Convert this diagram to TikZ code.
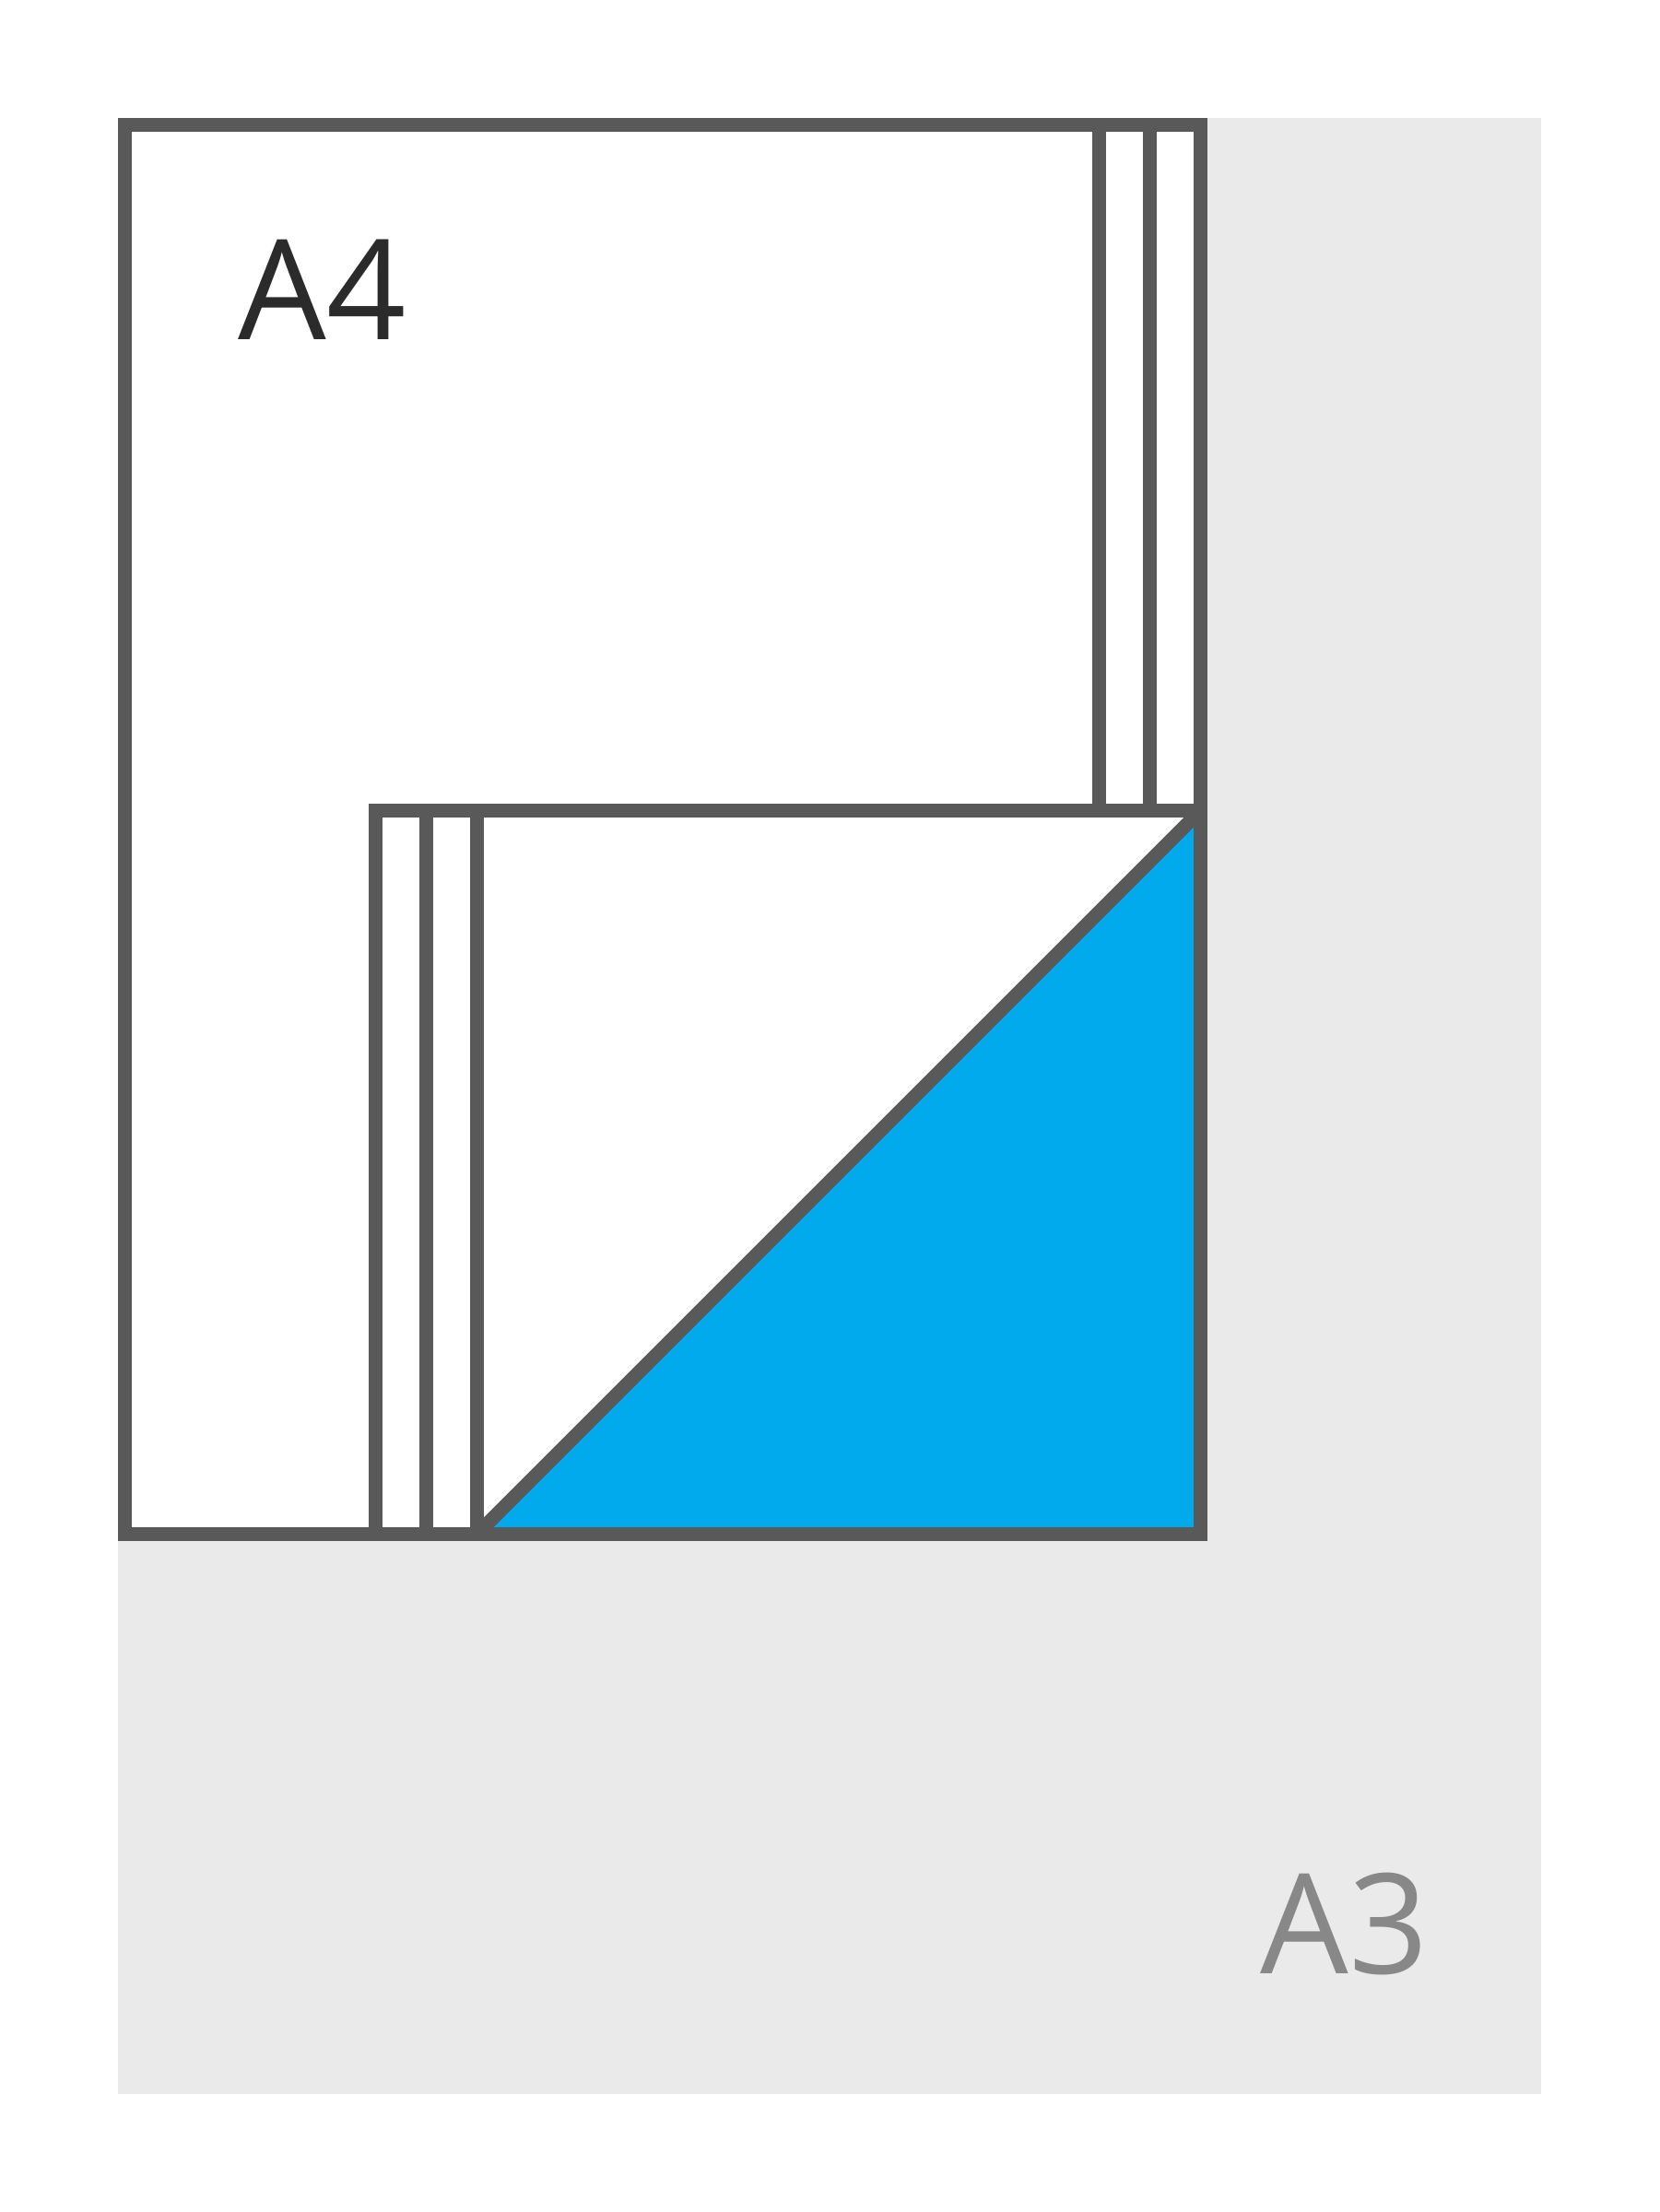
\documentclass[tikz,border=0pt]{standalone}
\usepackage{fontspec}
\setmainfont{Open Sans}
\usepackage{xcolor}
\usepackage{tikz}
\definecolor{frame}{RGB}{89,89,89}
\definecolor{sheet}{RGB}{234,234,234}
\definecolor{fold}{RGB}{0,170,237}
\definecolor{labeldark}{RGB}{43,43,43}
\definecolor{labellight}{RGB}{136,136,136}
\tikzset{
    edge/.style={draw=frame, line width=0.15cm, line join=miter},
    sizelabel/.style={anchor=base west, inner sep=0pt, font=\fontsize{43}{43}\selectfont}
}

\begin{document}
\begin{tikzpicture}
    \useasboundingbox (0,0) rectangle (18,-24);
    % A3 sheet
    \fill[sheet] (1.28,-1.28) rectangle (16.72,-22.72);
    % A4 sheet
    \fill[white] (1.355,-1.355) rectangle (13.025,-16.645);
    \fill[fold] (5.175,-16.645) -- (13.025,-16.645) -- (13.025,-8.795) -- cycle;
    % Folds
    \draw[edge] (1.355,-1.355) rectangle (13.025,-16.645);
    \draw[edge] (11.925,-1.355) -- (11.925,-8.795);
    \draw[edge] (12.475,-1.355) -- (12.475,-8.795);
    \draw[edge] (4.075,-16.645) -- (4.075,-8.795) -- (13.025,-8.795);
    \draw[edge] (4.625,-8.795) -- (4.625,-16.645);
    \draw[edge] (5.175,-8.795) -- (5.175,-16.645);
    \draw[edge] (5.175,-16.645) -- (13.025,-8.795);
    % Labels
    \node[sizelabel, text=labeldark] (afour) at (2.58,-3.69) {A4};
    \node[sizelabel, text=labellight] (athree) at (13.67,-21.41) {A3};
\end{tikzpicture}
\end{document}
